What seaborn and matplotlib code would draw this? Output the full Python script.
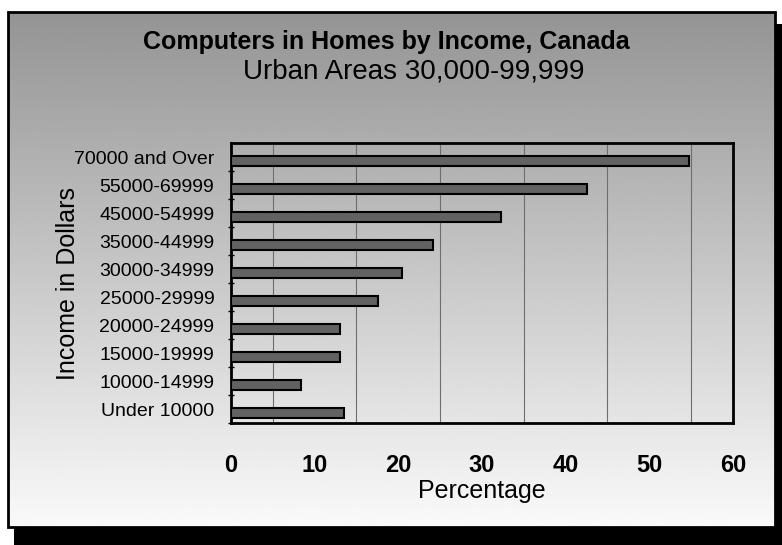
import numpy as np
import pandas as pd
import matplotlib
matplotlib.use("Agg")
import matplotlib.pyplot as plt
import seaborn as sns
from matplotlib.patches import Rectangle

# data (top to bottom)
income_groups = [
    "70000 and Over", "55000-69999", "45000-54999", "35000-44999",
    "30000-34999", "25000-29999", "20000-24999", "15000-19999",
    "10000-14999", "Under 10000",
]
pct_with_computer = [54.7, 42.6, 32.3, 24.2, 20.4, 17.6, 13.0, 13.0, 8.4, 13.5]
x_ticks = [0, 10, 20, 30, 40, 50, 60]

df = pd.DataFrame({"income": income_groups, "pct": pct_with_computer})

sns.set_theme(style="white")
plt.rcParams["font.family"] = ["Liberation Sans", "DejaVu Sans"]
plt.rcParams["text.color"] = "black"
plt.rcParams["xtick.color"] = "black"
plt.rcParams["ytick.color"] = "black"
plt.rcParams["axes.labelcolor"] = "black"

fig = plt.figure(figsize=(7.82, 5.45), dpi=100)
fig.patch.set_facecolor("white")

# background panel with gradient + drop shadow
bg = fig.add_axes([0, 0, 1, 1], zorder=-10)
bg.set_xlim(0, 782)
bg.set_ylim(545, 0)
bg.axis("off")
bg.add_patch(Rectangle((14, 24), 768, 521, facecolor="black", edgecolor="none"))
grad = np.linspace(0.58, 0.98, 256).reshape(-1, 1)
bg.imshow(grad, cmap="gray", vmin=0, vmax=1, extent=(8, 775, 527, 12),
          aspect="auto", zorder=1)
bg.add_patch(Rectangle((8, 12), 767, 515, facecolor="none",
                       edgecolor="black", linewidth=2, zorder=2))

ax = fig.add_axes([231 / 782, 1 - 423 / 545, 502 / 782, 280 / 545])
ax.patch.set_alpha(0)

sns.barplot(data=df, x="pct", y="income", orient="h", width=0.36,
            color="#626262", edgecolor="black", linewidth=1.5,
            saturation=1, ax=ax, zorder=3)

n = len(income_groups)
pos = np.arange(n)
ax.set_ylim(n - 1 + 0.36, -0.64)
ax.set_xlim(0, 60)

ax.set_yticks(pos - 0.14)
ax.set_yticklabels(income_groups, fontsize=14)
ax.set_yticks(pos + 0.36, minor=True)
ax.tick_params(axis="y", which="major", length=0, pad=12)
ax.tick_params(axis="y", which="minor", length=4, width=1, direction="inout",
               left=True, color="black")

ax.set_xticks(np.arange(0, 61, 5), minor=True)
ax.set_xticks(x_ticks)
ax.set_xticklabels([str(t) for t in x_ticks], fontsize=17, fontweight="bold")
ax.tick_params(axis="x", which="both", length=0, pad=22)
ax.grid(True, axis="x", which="minor", color="#6e6e6e", linewidth=0.8, zorder=0)

for s in ax.spines.values():
    s.set_visible(True)
    s.set_color("black")
    s.set_linewidth(2)

ax.set_xlabel("Percentage", fontsize=18, labelpad=2)
ax.set_ylabel("")
fig.text(68 / 782, 1 - 283 / 545, "Income in Dollars", rotation=90,
         ha="center", va="center", fontsize=18)

fig.text(386 / 782, 1 - 42 / 545, "Computers in Homes by Income, Canada",
         ha="center", va="center", fontsize=18, fontweight="bold")
fig.text(414 / 782, 1 - 72 / 545, "Urban Areas 30,000-99,999",
         ha="center", va="center", fontsize=20)

fig.savefig("out.png", dpi=100)
